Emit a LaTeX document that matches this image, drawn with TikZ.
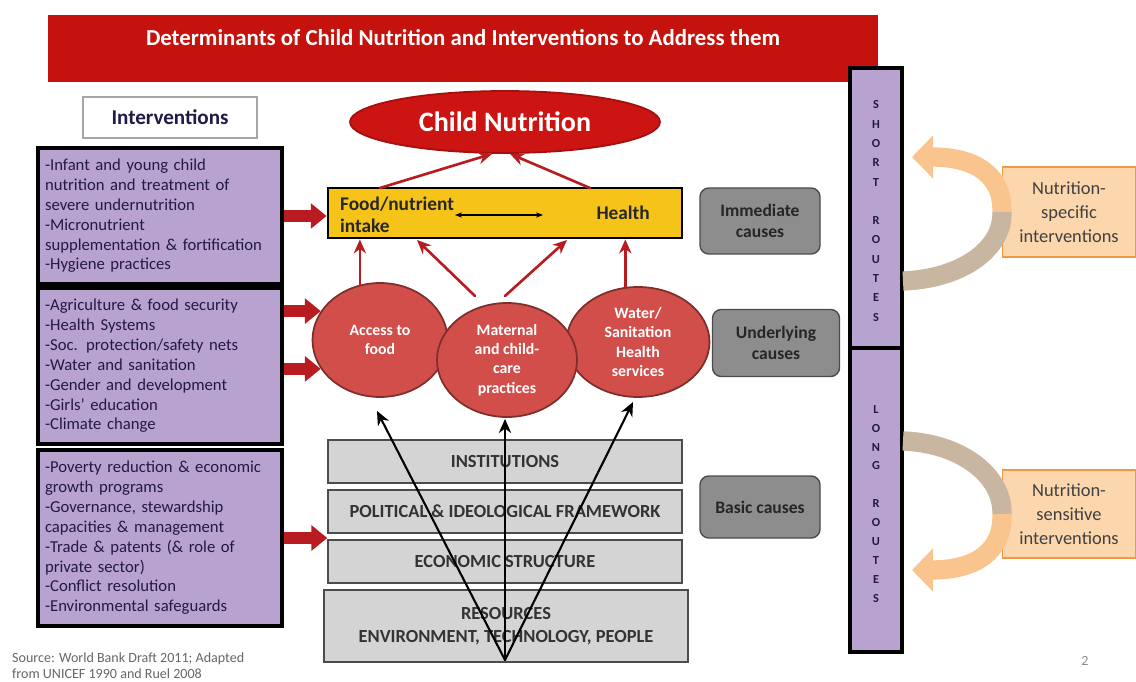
\documentclass[tikz,border=0pt]{standalone}
\usepackage{fontspec}
\setmainfont{Carlito}
\usepackage{xcolor}
\definecolor{titlered}{RGB}{197,18,13}
\definecolor{cnred}{RGB}{204,20,18}
\definecolor{circred}{RGB}{210,78,74}
\definecolor{arrred}{RGB}{185,28,32}
\definecolor{lav}{RGB}{184,163,208}
\definecolor{ink}{RGB}{35,25,70}
\definecolor{myyellow}{RGB}{246,196,24}
\definecolor{causegray}{RGB}{141,141,141}
\definecolor{layergray}{RGB}{212,212,212}
\definecolor{orng}{RGB}{249,196,142}
\definecolor{tanband}{RGB}{200,182,160}
\definecolor{boxorng}{RGB}{252,214,172}
\usepackage{tikz}
\usetikzlibrary{arrows.meta,shapes.geometric}
\newlength\px \setlength\px{0.02cm}

\begin{document}
\begin{tikzpicture}[x=0.02cm,y=-0.02cm,line cap=round]
	\tikzstyle{ibox}=[draw,line width=2.2pt,fill=lav,text=ink,minimum width=244\px,text width=230\px,inner sep=0pt,align=left,font=\fontsize{9.5}{11.3}\selectfont];
	\tikzstyle{layer}=[draw=gray!60!black,line width=.8pt,fill=layergray,text=black!80,minimum width=354\px,minimum height=43\px,inner sep=0pt,align=center,font=\bfseries\fontsize{10.5}{13}\selectfont];
	\tikzstyle{circ}=[ellipse,draw=circred!60!black,line width=1pt,fill=circred,text=white,inner sep=0pt,align=center,font=\bfseries\fontsize{9}{11}\selectfont];
	\tikzstyle{cause}=[draw=gray!60!black,line width=.8pt,fill=causegray,rounded corners=5pt,text=black!85,inner sep=0pt,align=center,font=\bfseries\fontsize{10}{12}\selectfont];
	\tikzstyle{route}=[draw,line width=2pt,fill=lav,minimum width=52\px,inner sep=0pt];
	\tikzstyle{kind}=[draw=orange!70!brown!80,line width=.6pt,fill=boxorng,text=black!75,minimum width=133\px,inner sep=0pt,align=center,font=\fontsize{10.5}{13.5}\selectfont];
	\tikzstyle{rarr}=[draw=arrred,line width=1.5pt,-{Stealth[length=8pt,width=7pt]}];
	\tikzstyle{barr}=[draw=arrred,line width=6.5pt,line cap=butt,-{Triangle[length=9pt,width=14pt]}];
	\tikzstyle{karr}=[draw=black,line width=1.2pt,-{Stealth[length=8pt,width=7pt]}];
	\useasboundingbox (0,0) rectangle (1136,682);
	% title bar
	\fill[titlered] (48,15) rectangle (878,82);
	\node[text=white,font=\bfseries\fontsize{13}{15}\selectfont] (title) at (463,38) {Determinants of Child Nutrition and Interventions to Address them};
	% left column
	\node[draw=gray!70,line width=1pt,fill=white,minimum width=174\px,minimum height=41\px,text=ink,font=\bfseries\fontsize{12}{14}\selectfont] (intv) at (170,117.5) {Interventions};
	\node[ibox,minimum height=136\px] (ib1) at (160,216) {-Infant and young child\\nutrition and treatment of\\severe undernutrition\\-Micronutrient\\supplementation \& fortification\\-Hygiene practices};
	\node[ibox,minimum height=156\px] (ib2) at (160,366) {-Agriculture \& food security\\-Health Systems\\-Soc. protection/safety nets\\-Water and sanitation\\-Gender and development\\-Girls' education\\-Climate change};
	\node[ibox,minimum height=176\px] (ib3) at (160,538) {-Poverty reduction \& economic\\growth programs\\-Governance, stewardship\\capacities \& management\\-Trade \& patents (\& role of\\private sector)\\-Conflict resolution\\-Environmental safeguards};
	\node[anchor=west,align=left,text=black!60,font=\fontsize{8}{9}\selectfont] (src) at (6,666) {Source: World Bank Draft 2011; Adapted\\from UNICEF 1990 and Ruel 2008};
	% centre
	\node[ellipse,draw=cnred!80!black,line width=1pt,fill=cnred,text=white,minimum width=310\px,minimum height=62\px,inner sep=0pt,font=\bfseries\fontsize{16}{18}\selectfont] (cn) at (505,122) {Child Nutrition};
	\node[draw,line width=1.6pt,fill=myyellow,minimum width=354\px,minimum height=50\px,inner sep=0pt] (yel) at (505,213) {};
	\node[anchor=west,align=left,text=black!85,font=\bfseries\fontsize{11}{12.5}\selectfont] (fni) at (334,215) {Food/nutrient\\intake};
	\node[anchor=east,text=black!85,font=\bfseries\fontsize{11}{12.5}\selectfont] (hlth) at (656,213) {Health};
	\node[circ,minimum width=135\px,minimum height=114\px] (acc) at (380,340) {Access to\\food};
	\node[circ,minimum width=143\px,minimum height=110\px] (wat) at (638,342) {Water/\\Sanitation\\Health\\services};
	\node[circ,minimum width=140\px,minimum height=114\px] (mat) at (507,360) {Maternal\\and child-\\care\\practices};
	\node[layer] (inst) at (505,461.5) {INSTITUTIONS};
	\node[layer] (pol) at (505,511.5) {POLITICAL \& IDEOLOGICAL FRAMEWORK};
	\node[layer] (eco) at (505,561.5) {ECONOMIC STRUCTURE};
	\node[layer,minimum width=364\px,minimum height=72\px] (res) at (506,626) {RESOURCES\\ENVIRONMENT, TECHNOLOGY, PEOPLE};
	% causes
	\node[cause,minimum width=120\px,minimum height=66\px] (imm) at (760,221) {Immediate\\causes};
	\node[cause,minimum width=127\px,minimum height=67\px] (und) at (776,343) {Underlying\\causes};
	\node[cause,minimum width=120\px,minimum height=62\px] (bas) at (760,507) {Basic causes};
	% routes
	\node[route,minimum height=280\px] (short) at (876,208) {};
	\node[route,minimum height=304\px] (long) at (876,500) {};
	\node[align=center,text=ink,font=\bfseries\fontsize{7}{11}\selectfont] (shortlbl) at (876,211) {S\\H\\O\\R\\T\\[11pt]R\\O\\U\\T\\E\\S};
	\node[align=center,text=ink,font=\bfseries\fontsize{7}{10.8}\selectfont] (longlbl) at (876,504) {L\\O\\N\\G\\[10.8pt]R\\O\\U\\T\\E\\S};
	\node[kind,minimum height=90\px] (spec) at (1069,212) {Nutrition-\\specific\\interventions};
	\node[kind,minimum height=88\px] (sens) at (1069,514) {Nutrition-\\sensitive\\interventions};
	\node[text=black!45,font=\fontsize{8}{9}\selectfont] (pg) at (1085,661) {2};
	% free ends
	\coordinate (dl) at (455,215);
	\coordinate (dr) at (543,215);
	\coordinate (yl) at (380,188);
	\coordinate (yr) at (590,188);
	\coordinate (ml) at (475,296);
	\coordinate (mr) at (505,296);
	\coordinate (y1) at (417,240);
	\coordinate (y2) at (567,240);
	\coordinate (root) at (505,660);
	\coordinate (t1) at (377,411);
	\coordinate (t2) at (505,419);
	\coordinate (t3) at (633,402);
	\coordinate (st) at (903,281);
	\coordinate (sh) at (912,157);
	\coordinate (lt) at (903,441);
	\coordinate (lh) at (912,570);
	% connectors
	\draw[{Stealth[length=4pt]}-{Stealth[length=4pt]},line width=.6pt] (dl) -- (dr);
	\draw[rarr] (yl) -- (cn.-112);
	\draw[rarr] (yr) -- (cn.-81);
	\draw[rarr] (acc.110) -- (acc.110 |- yel.south);
	\draw[rarr] (ml) -- (y1);
	\draw[rarr] (mr) -- (y2);
	\draw[rarr] (wat.103) -- (wat.103 |- yel.south);
	\draw[barr] (ib1.east) -- (ib1.east -| yel.west);
	\draw[barr] (ib2.east |- acc.154) -- (acc.154);
	\draw[barr] (ib2.east |- acc.206) -- (acc.206);
	\draw[barr] (ib3.east) -- (ib3.east -| pol.west);
	\draw[karr] (root) -- (t1);
	\draw[karr] (root) -- (t2);
	\draw[karr] (root) -- (t3);
	% curved arrows
	\draw[tanband,line width=11pt,line cap=butt] (st) .. controls (960,279) and (1003,250) .. (spec.west);
	\draw[orng,line width=11pt,line cap=butt,-{Triangle[length=12pt,width=24pt]}] (spec.west) .. controls (1003,175) and (975,157) .. (sh);
	\draw[tanband,line width=11pt,line cap=butt] (lt) .. controls (960,443) and (1003,475) .. (sens.west);
	\draw[orng,line width=11pt,line cap=butt,-{Triangle[length=12pt,width=24pt]}] (sens.west) .. controls (1003,552) and (975,570) .. (lh);
\end{tikzpicture}
\end{document}
